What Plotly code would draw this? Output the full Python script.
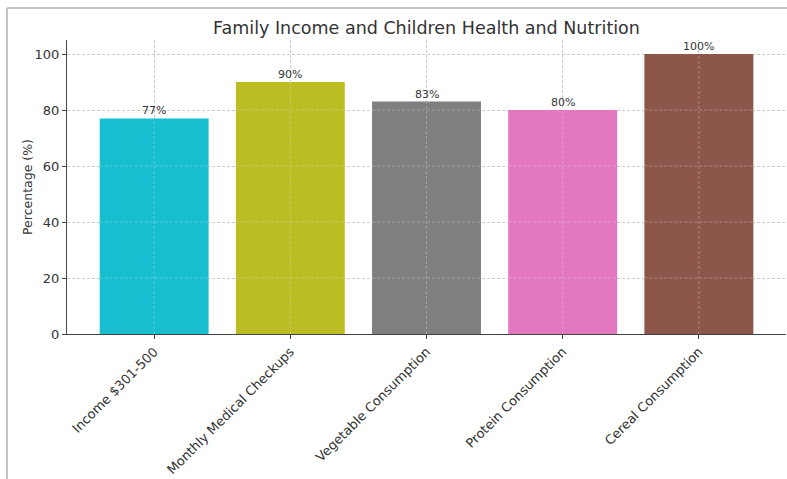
import plotly.graph_objects as go

categories = ["Income $301-500", "Monthly Medical Checkups", "Vegetable Consumption",
              "Protein Consumption", "Cereal Consumption"]
values = [77, 90, 83, 80, 100]
labels = ["77%", "90%", "83%", "80%", "100%"]
colors = ["#17becf", "#bcbd22", "#7f7f7f", "#e377c2", "#8c564b"]
y_ticks = [0, 20, 40, 60, 80, 100]

FONT = "DejaVu Sans"
TXT = "#333333"
W, H = 787, 479
L, R, T, B = 67, 1, 40, 145
PW, PH = W - L - R, H - T - B
xs = list(range(len(categories)))

fig = go.Figure(go.Bar(
    x=xs, y=values, width=0.8,
    marker=dict(color=colors, line=dict(width=0)),
    hoverinfo="skip",
))

fig.update_layout(
    width=W, height=H,
    margin=dict(l=L, r=R, t=T, b=B, autoexpand=False),
    paper_bgcolor="white", plot_bgcolor="white",
    font=dict(family=FONT, color=TXT),
    title=dict(text="Family Income and Children Health and Nutrition",
               x=(L + PW / 2) / W, xanchor="center",
               y=1 - 28 / H, yanchor="middle",
               font=dict(family=FONT, size=17.5, color=TXT)),
    showlegend=False,
)

grid_kw = dict(showgrid=True, gridcolor="rgba(190,190,190,0.8)", griddash="3px,2px", gridwidth=0.8)
fig.update_xaxes(
    range=[-0.64, 4.64], tickmode="array", tickvals=xs,
    ticktext=categories, tickangle=-45, tickfont=dict(family=FONT, size=13, color=TXT),
    showline=True, linecolor="#444444", linewidth=1.2,
    ticks="outside", ticklen=4, tickcolor="#444444",
    zeroline=False, **grid_kw,
)
fig.update_yaxes(
    range=[0, 105], tickvals=y_ticks, tickfont=dict(family=FONT, size=13, color=TXT),
    showline=True, linecolor="#444444", linewidth=1.2,
    ticks="outside", ticklen=4, tickcolor="#444444",
    zeroline=False, **grid_kw,
)

# y-axis title
fig.add_annotation(text="Percentage (%)", xref="paper", yref="paper",
                   x=(27 - L) / PW, y=0.5, xanchor="center", yanchor="middle",
                   textangle=-90, showarrow=False,
                   font=dict(family=FONT, size=12.5, color=TXT))

# value labels above bars
for i in xs:
    fig.add_annotation(text=labels[i], x=i, y=values[i], xref="x", yref="y",
                       xanchor="center", yanchor="bottom", yshift=-1, showarrow=False,
                       font=dict(family=FONT, size=11, color=TXT))

# faint grid lines drawn over the bars (as in the reference)
over = dict(color="rgba(225,225,225,0.45)", width=0.8, dash="3px,2px")
for i in xs:
    fig.add_shape(type="line", xref="x", yref="y", x0=i, x1=i, y0=0, y1=values[i],
                  line=over, layer="above")
for v in y_ticks[1:]:
    for i in xs:
        if values[i] > v:
            fig.add_shape(type="line", xref="x", yref="y", x0=i - 0.4, x1=i + 0.4,
                          y0=v, y1=v, line=over, layer="above")

# document frame lines around the screenshot
fx = (7 - L) / PW
fy = (H - B - 8) / PH
fig.add_shape(type="line", xref="paper", yref="paper",
              x0=fx, x1=1.01, y0=fy, y1=fy, line=dict(color="#c4c4c4", width=2))
fig.add_shape(type="line", xref="paper", yref="paper",
              x0=fx, x1=fx, y0=-0.6, y1=fy, line=dict(color="#c4c4c4", width=2))

fig.write_html("out.html", config={"displayModeBar": False},
               post_script="document.body.style.margin='0px';")
